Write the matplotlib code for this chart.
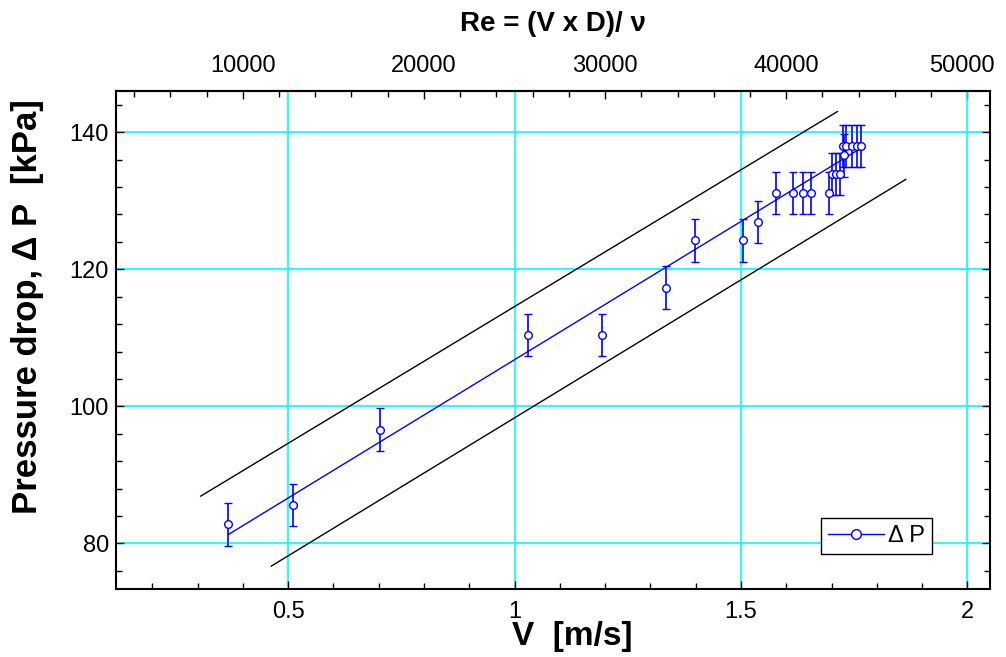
import numpy as np
import matplotlib.pyplot as plt
from matplotlib.lines import Line2D
from matplotlib.ticker import MultipleLocator
from matplotlib.transforms import ScaledTranslation

plt.rcParams['font.family'] = ['Liberation Sans', 'DejaVu Sans']

# measured points: velocity [m/s], pressure drop [kPa], error [kPa]
V  = [0.368, 0.510, 0.703, 1.029, 1.194, 1.335, 1.398, 1.505, 1.538,
      1.577, 1.616, 1.636, 1.655, 1.695, 1.702, 1.711, 1.718, 1.728,
      1.726, 1.733, 1.745, 1.756, 1.766]
DP = [82.8, 85.6, 96.6, 110.4, 110.4, 117.3, 124.2, 124.2, 126.9,
      131.1, 131.1, 131.1, 131.1, 131.1, 133.9, 133.9, 133.9, 136.6,
      138.0, 138.0, 138.0, 138.0, 138.0]
ERR = 3.1

# linear fit and the two bounding lines
FIT_V   = [0.368, 1.766]
FIT_DP  = [81.3, 137.7]
UP_V    = [0.307, 1.713]
UP_DP   = [86.9, 143.0]
LOW_V   = [0.463, 1.864]
LOW_DP  = [76.7, 133.1]

RE_PER_V = 25000.0  # Re = V*D/nu
RE_TICKS = [10000, 20000, 30000, 40000, 50000]

fig = plt.figure(figsize=(10.06, 6.57), dpi=100)
ax = fig.add_axes([116/1006, 1 - 588.7/657, 874/1006, (588.7 - 91)/657])

ax.plot(UP_V, UP_DP, color='black', lw=1.0)
ax.plot(LOW_V, LOW_DP, color='black', lw=1.0)
ax.plot(FIT_V, FIT_DP, color='blue', lw=1.0, zorder=3)
ax.errorbar(V, DP, yerr=ERR, fmt='o', ms=5.5, mfc='white', mec='blue', mew=1.0,
            ecolor='blue', elinewidth=1.2, capsize=3, capthick=1.2, zorder=4)

ax.set_xlim(0.12, 2.05)
ax.set_ylim(73.4, 146)
ax.xaxis.set_major_locator(MultipleLocator(0.5))
ax.xaxis.set_minor_locator(MultipleLocator(0.1))
ax.yaxis.set_major_locator(MultipleLocator(20))
ax.yaxis.set_minor_locator(MultipleLocator(4))
ax.set_xticks([0.5, 1, 1.5, 2], ['0.5', '1', '1.5', '2'])
ax.grid(True, which='major', color='cyan', lw=1.2)
ax.set_axisbelow(True)
ax.tick_params(which='both', direction='in', top=False, right=True,
               labelsize=17, width=1)
ax.tick_params(axis='x', which='major', pad=9)
ax.tick_params(axis='y', which='major', pad=5)
ax.tick_params(which='major', length=6)
ax.tick_params(which='minor', length=4)
for s in ax.spines.values():
    s.set_linewidth(1.5)

ax.set_xlabel('V  [m/s]', fontsize=24, fontweight='bold')
ax.xaxis.set_label_coords(0.522, -0.064)
ax.set_ylabel('Pressure drop, \u0394 P  [kPa]', fontsize=25, fontweight='bold')
ax.yaxis.set_label_coords(-0.082, 0.567)

# Reynolds number scale on top
top = ax.secondary_xaxis('top', functions=(lambda v: v * RE_PER_V,
                                           lambda r: r / RE_PER_V))
top.set_xticks(RE_TICKS, [str(r) for r in RE_TICKS])
top.xaxis.set_minor_locator(MultipleLocator(2000))
top.tick_params(which='both', direction='in', labelsize=17, width=1)
top.tick_params(which='major', length=6, pad=10)
top.tick_params(which='minor', length=4)
top.spines['top'].set_linewidth(1.5)
top.set_xlabel('Re = (V x D)/ \u03bd', fontsize=20, fontweight='bold', labelpad=17)

# last Re label sits against the right edge, nudge it in a little
last = top.xaxis.get_major_ticks()[-1].label2
last.set_transform(last.get_transform() +
                   ScaledTranslation(-5 / 100, 0, fig.dpi_scale_trans))

proxy = Line2D([], [], color='blue', lw=1.0, marker='o', ms=7,
               mfc='white', mec='blue')
leg = ax.legend([proxy], ['\u0394 P'], loc='lower right', fontsize=17,
                bbox_to_anchor=(0.9336, 0.0697), borderaxespad=0,
                fancybox=False, framealpha=1, edgecolor='black',
                handlelength=2.4, handletextpad=0.15, borderpad=0.3)
leg.get_frame().set_linewidth(1.0)

fig.savefig('out.png', dpi=100)
